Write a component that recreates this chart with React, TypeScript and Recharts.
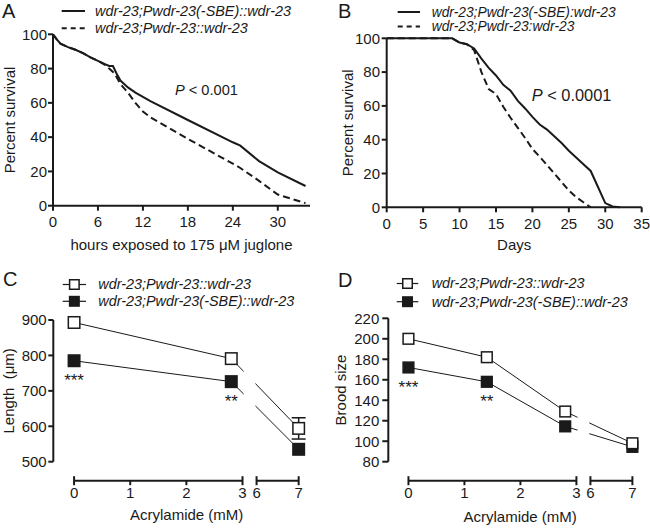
import React from "react"
import {
    LineChart,
    Line,
    XAxis,
    YAxis,
    Legend,
    ReferenceLine,
    ReferenceArea,
    ErrorBar,
    LabelList,
} from "recharts"

const FONT = '"Liberation Sans", Arial, Helvetica, sans-serif'
const INK = "#1a1a1a"

// A - survival on 175 uM juglone
const aHours = [0, 0.5, 1, 2, 3, 4, 5, 6, 7, 7.5, 8, 8.5, 9, 10, 11, 12, 13, 18, 24, 25, 27.5, 30, 33.7]
const aSbe = [100, 97, 94.5, 92.5, 91, 89, 86.5, 84.5, 82.5, 81.5, 81.5, 77, 73, 69, 66, 63.5, 61, 50, 37, 35, 26, 19.5, 11.5]
const aWt = [100, 97, 94.5, 92.5, 91, 89, 86.5, 84.5, 82, 80, 78, 75, 71, 66, 60, 55, 51.5, 39, 24.5, 22, 14.5, 6.5, 1.5]
const aTicksX = [0, 6, 12, 18, 24, 30]

// B - lifespan
const bDays = [0, 9, 10, 11, 12, 13, 14, 15, 16, 17, 18, 19, 20, 21, 22, 23, 24, 25, 26, 27, 28, 29, 30, 31, 32]
const bSbe = [100, 100, 97.5, 96.5, 94, 88, 82.5, 78, 72.5, 69, 63, 58.5, 53.5, 49, 46, 42, 38, 33.5, 29.5, 25.5, 21.5, 12, 2.5, 0.5, 0]
const bWt = [100, 100, 97.5, 96.5, 93, 80, 70, 67, 59.5, 53, 47, 41, 34.5, 30, 25, 20, 15, 10, 6, 3, 0, null, null, null, null]
const bTicksX = [0, 5, 10, 15, 20, 25, 30, 35]

const survivalTicksY = [0, 20, 40, 60, 80, 100]

// C - body length on acrylamide
const cDose = [0, 2.8, 7]
const cOpen = [893, 791, 594]
const cOpenErr = [0, 0, 30]
const cFilled = [785, 726, 535]
const cStars = ["***", "**", ""]
const cTicksY = [500, 600, 700, 800, 900]

// D - brood size on acrylamide
const dDose = [0, 1.4, 2.8, 7]
const dOpen = [200, 182, 129, 98]
const dFilled = [172, 158, 114.5, 94.5]
const dStars = ["***", "**", "", ""]
const dTicksY = [80, 100, 120, 140, 160, 180, 200, 220]

// broken dose axis: 0-3 full scale, then 6-7 at 3/4 scale after a short gap
const doseTicks = [0, 1, 2, 3, 6, 7]
const doseCaps = [0, 3, 6, 7]
const brokenPos = (d: number) => (d <= 3 ? d : 3.25 + (d - 6) * 0.75)

const aData = aHours.map((t, i) => ({ t, sbe: aSbe[i], wt: aWt[i] }))
const bData = bDays.map((t, i) => ({ t, sbe: bSbe[i], wt: bWt[i] }))
const cData = cDose.map((d, i) => ({
    pos: brokenPos(d),
    open: cOpen[i],
    openErr: cOpenErr[i],
    filled: cFilled[i],
    stars: cStars[i],
}))
const dData = dDose.map((d, i) => ({
    pos: brokenPos(d),
    open: dOpen[i],
    filled: dFilled[i],
    stars: dStars[i],
}))

const tickStyle = { fontSize: 15, fill: INK, fontFamily: FONT }
const starStyle = { fontSize: 17, fill: INK, fontFamily: FONT }
const axisStroke = { stroke: INK, strokeWidth: 2 }
const titleStyle = { fontSize: 15, fill: INK, fontFamily: FONT }
const BAR_DROP = 19 // px between plot bottom and the broken x-axis bar

const squareDot = (fill: string, size: number) => (props: any) => {
    const { cx, cy, index } = props
    if (cx == null || cy == null) return <g key={index} />
    return (
        <rect
            key={index}
            x={cx - size / 2}
            y={cy - size / 2}
            width={size}
            height={size}
            fill={fill}
            stroke={INK}
            strokeWidth={1.5}
        />
    )
}

const brokenTick = (props: any) => {
    const { x, y, payload } = props
    const i = doseTicks.findIndex((d) => Math.abs(brokenPos(d) - payload.value) < 1e-6)
    if (i < 0) return <g />
    const barY = y + BAR_DROP
    const isCap = doseCaps.includes(doseTicks[i])
    return (
        <g>
            <line x1={x} x2={x} y1={isCap ? barY - 4.5 : barY} y2={barY + 4.5} stroke={INK} strokeWidth={2} />
            <text x={x} y={barY + 17.5} textAnchor="middle" {...tickStyle}>
                {doseTicks[i]}
            </text>
        </g>
    )
}

type Row = { y: number; label: string; dash?: string; fill?: string }

function LegendSvg({ w, h, rows, x1, x2, tx, square, fs = 14.4 }: { w: number; h: number; rows: Row[]; x1: number; x2: number; tx: number; square?: number; fs?: number }) {
    return (
        <svg width={w} height={h} style={{ display: "block", overflow: "visible" }}>
            {rows.map((r) => (
                <g key={r.label}>
                    <line
                        x1={x1}
                        x2={x2}
                        y1={r.y}
                        y2={r.y}
                        stroke={INK}
                        strokeWidth={square ? 1.2 : 2}
                        strokeDasharray={r.dash}
                    />
                    {square && (
                        <rect
                            x={(x1 + x2) / 2 - square / 2}
                            y={r.y - square / 2}
                            width={square}
                            height={square}
                            fill={r.fill}
                            stroke={INK}
                            strokeWidth={1.5}
                        />
                    )}
                    <text x={tx} y={r.y + 4.8} fontSize={fs} fontStyle="italic" fill={INK} fontFamily={FONT}>
                        {r.label}
                    </text>
                </g>
            ))}
        </svg>
    )
}

function PanelA() {
    return (
        <LineChart width={325} height={262} data={aData} margin={{ top: 34.3, right: 15, left: 0, bottom: 6.3 }}>
            <XAxis
                dataKey="t"
                type="number"
                domain={[0, 34.3]}
                ticks={aTicksX}
                interval={0}
                height={50}
                axisLine={axisStroke}
                tickLine={axisStroke}
                tickSize={5}
                tickMargin={5.6}
                tick={tickStyle}
                label={{ value: "hours exposed to 175 μM juglone", position: "insideBottom", offset: 5.7, style: titleStyle }}
            />
            <YAxis
                type="number"
                domain={[0, 100]}
                ticks={survivalTicksY}
                interval={0}
                width={53}
                axisLine={axisStroke}
                tickLine={axisStroke}
                tickSize={5}
                tickMargin={1}
                tick={tickStyle}
                label={{ value: "Percent survival", angle: -90, position: "insideLeft", offset: 10, style: { ...titleStyle, textAnchor: "middle" } }}
            />
            <Line dataKey="sbe" type="linear" stroke={INK} strokeWidth={2} dot={false} isAnimationActive={false} />
            <Line dataKey="wt" type="linear" stroke={INK} strokeWidth={2} strokeDasharray="7 4" dot={false} isAnimationActive={false} />
            <Legend
                verticalAlign="middle"
                align="center"
                layout="horizontal"
                wrapperStyle={{ left: 0, top: 0, width: 325, height: 40 }}
                content={() => (
                    <LegendSvg
                        w={325}
                        h={40}
                        x1={61.7}
                        x2={85}
                        tx={95}
                        rows={[
                            { y: 11, label: "wdr-23;Pwdr-23(-SBE)::wdr-23" },
                            { y: 28.3, label: "wdr-23;Pwdr-23::wdr-23", dash: "5 4" },
                        ]}
                    />
                )}
            />
        </LineChart>
    )
}

function PanelB() {
    return (
        <LineChart width={325} height={262} data={bData} margin={{ top: 38.3, right: 8.3, left: 0, bottom: 4.7 }}>
            <XAxis
                dataKey="t"
                type="number"
                domain={[0, 35]}
                ticks={bTicksX}
                interval={0}
                height={50}
                axisLine={axisStroke}
                tickLine={axisStroke}
                tickSize={5}
                tickMargin={5.6}
                tick={tickStyle}
                label={{ value: "Days", position: "insideBottom", offset: 7.3, style: titleStyle }}
            />
            <YAxis
                type="number"
                domain={[0, 100]}
                ticks={survivalTicksY}
                interval={0}
                width={61.7}
                axisLine={axisStroke}
                tickLine={axisStroke}
                tickSize={5}
                tickMargin={1.7}
                tick={tickStyle}
                label={{ value: "Percent survival", angle: -90, position: "insideLeft", offset: 22.3, style: { ...titleStyle, textAnchor: "middle" } }}
            />
            <Line dataKey="sbe" type="linear" stroke={INK} strokeWidth={2} dot={false} isAnimationActive={false} />
            <Line dataKey="wt" type="linear" stroke={INK} strokeWidth={2} strokeDasharray="7 4" dot={false} isAnimationActive={false} />
            <Legend
                verticalAlign="middle"
                align="center"
                layout="horizontal"
                wrapperStyle={{ left: 0, top: 0, width: 325, height: 36 }}
                content={() => (
                    <LegendSvg
                        w={325}
                        h={36}
                        x1={72.7}
                        x2={95}
                        tx={106.7}
                        fs={13.8}
                        rows={[
                            { y: 12, label: "wdr-23;Pwdr-23(-SBE):wdr-23" },
                            { y: 26.5, label: "wdr-23;Pwdr-23:wdr-23", dash: "5 4" },
                        ]}
                    />
                )}
            />
        </LineChart>
    )
}

function PanelC() {
    const barY = 446.4
    return (
        <LineChart width={330} height={267} data={cData} margin={{ top: 58, right: 10, left: 0, bottom: 5.3 }}>
            <XAxis
                dataKey="pos"
                type="number"
                domain={[-0.37, 4.38]}
                ticks={doseTicks.map(brokenPos)}
                interval={0}
                height={62}
                axisLine={false}
                tickLine={false}
                tickSize={0}
                tickMargin={0}
                tick={brokenTick}
                label={{ value: "Acrylamide (mM)", position: "insideBottom", offset: 3.7, style: titleStyle }}
            />
            <YAxis
                type="number"
                domain={[500, 900]}
                ticks={cTicksY}
                interval={0}
                width={53.3}
                axisLine={axisStroke}
                tickLine={axisStroke}
                tickSize={5}
                tickMargin={1.6}
                tick={tickStyle}
                label={{ value: "Length\u00a0 (μm)", angle: -90, position: "insideLeft", offset: 8.3, style: { ...titleStyle, textAnchor: "middle" } }}
            />
            <ReferenceLine segment={[{ x: brokenPos(0), y: barY }, { x: brokenPos(3), y: barY }]} stroke={INK} strokeWidth={2} ifOverflow="visible" />
            <ReferenceLine segment={[{ x: brokenPos(6), y: barY }, { x: brokenPos(7), y: barY }]} stroke={INK} strokeWidth={2} ifOverflow="visible" />
            <Line dataKey="filled" type="linear" stroke={INK} strokeWidth={1} dot={squareDot(INK, 11.5)} isAnimationActive={false}>
                <LabelList dataKey="stars" position="bottom" offset={13} style={starStyle} />
            </Line>
            <Line dataKey="open" type="linear" stroke={INK} strokeWidth={1} dot={squareDot("#fff", 11.5)} isAnimationActive={false}>
                <ErrorBar dataKey="openErr" width={7} stroke={INK} strokeWidth={1.5} direction="y" />
            </Line>
            <ReferenceArea x1={3.02} x2={3.23} fill="#fff" fillOpacity={1} stroke="none" zIndex={2000} />
            <Legend
                verticalAlign="middle"
                align="center"
                layout="horizontal"
                wrapperStyle={{ left: 0, top: 0, width: 330, height: 50 }}
                content={() => (
                    <LegendSvg
                        w={330}
                        h={50}
                        x1={62.7}
                        x2={86}
                        tx={98.3}
                        square={9.5}
                        rows={[
                            { y: 22.5, label: "wdr-23;Pwdr-23::wdr-23", fill: "#fff" },
                            { y: 39.3, label: "wdr-23;Pwdr-23(-SBE)::wdr-23", fill: INK },
                        ]}
                    />
                )}
            />
        </LineChart>
    )
}

function PanelD() {
    const barY = 61.45
    return (
        <LineChart width={332} height={267} data={dData} margin={{ top: 56.3, right: 0, left: 0, bottom: 5.3 }}>
            <XAxis
                dataKey="pos"
                type="number"
                domain={[-0.36, 4.35]}
                ticks={doseTicks.map(brokenPos)}
                interval={0}
                height={62}
                axisLine={false}
                tickLine={false}
                tickSize={0}
                tickMargin={0}
                tick={brokenTick}
                label={{ value: "Acrylamide (mM)", position: "insideBottom", offset: 2, style: titleStyle }}
            />
            <YAxis
                type="number"
                domain={[80, 220]}
                ticks={dTicksY}
                interval={0}
                width={68.3}
                axisLine={axisStroke}
                tickLine={axisStroke}
                tickSize={6}
                tickMargin={3}
                tick={tickStyle}
                label={{ value: "Brood size", angle: -90, position: "insideLeft", offset: 20.7, style: { ...titleStyle, textAnchor: "middle" } }}
            />
            <ReferenceLine segment={[{ x: brokenPos(0), y: barY }, { x: brokenPos(3), y: barY }]} stroke={INK} strokeWidth={2} ifOverflow="visible" />
            <ReferenceLine segment={[{ x: brokenPos(6), y: barY }, { x: brokenPos(7), y: barY }]} stroke={INK} strokeWidth={2} ifOverflow="visible" />
            <Line dataKey="filled" type="linear" stroke={INK} strokeWidth={1} dot={squareDot(INK, 10.7)} isAnimationActive={false}>
                <LabelList dataKey="stars" position="bottom" offset={13} style={starStyle} />
            </Line>
            <Line dataKey="open" type="linear" stroke={INK} strokeWidth={1} dot={squareDot("#fff", 10.7)} isAnimationActive={false} />
            <ReferenceArea x1={3.02} x2={3.23} fill="#fff" fillOpacity={1} stroke="none" zIndex={2000} />
            <Legend
                verticalAlign="middle"
                align="center"
                layout="horizontal"
                wrapperStyle={{ left: 0, top: 0, width: 332, height: 50 }}
                content={() => (
                    <LegendSvg
                        w={332}
                        h={50}
                        x1={76.7}
                        x2={98.3}
                        tx={111.7}
                        square={9.5}
                        rows={[
                            { y: 21.5, label: "wdr-23;Pwdr-23::wdr-23", fill: "#fff" },
                            { y: 39.7, label: "wdr-23;Pwdr-23(-SBE)::wdr-23", fill: INK },
                        ]}
                    />
                )}
            />
        </LineChart>
    )
}

export default function App() {
    const place = (left: number, top: number): React.CSSProperties => ({ position: "absolute", left, top })
    return (
        <div
            style={{
                position: "absolute",
                left: 0,
                top: 0,
                width: 650,
                height: 529,
                overflow: "hidden",
                background: "#fff",
                fontFamily: FONT,
            }}
        >
            <div style={place(0, 0)}>
                <PanelA />
            </div>
            <div style={place(325, 0)}>
                <PanelB />
            </div>
            <div style={place(0, 262)}>
                <PanelC />
            </div>
            <div style={place(320, 262)}>
                <PanelD />
            </div>
            {/* panel letters and P values */}
            <svg width={650} height={529} style={{ position: "absolute", left: 0, top: 0, pointerEvents: "none" }}>
                <g fontFamily={FONT} fill={INK}>
                    <text x={2} y={17.5} fontSize={20}>A</text>
                    <text x={338} y={18} fontSize={20}>B</text>
                    <text x={3} y={286} fontSize={20}>C</text>
                    <text x={338} y={286.5} fontSize={20}>D</text>
                    <text x={175} y={95.2} fontSize={14.6}>
                        <tspan fontStyle="italic">P</tspan> {"< 0.001"}
                    </text>
                    <text x={531.7} y={100.9} fontSize={16.4}>
                        <tspan fontStyle="italic">P</tspan> {"< 0.0001"}
                    </text>
                </g>
            </svg>
        </div>
    )
}
